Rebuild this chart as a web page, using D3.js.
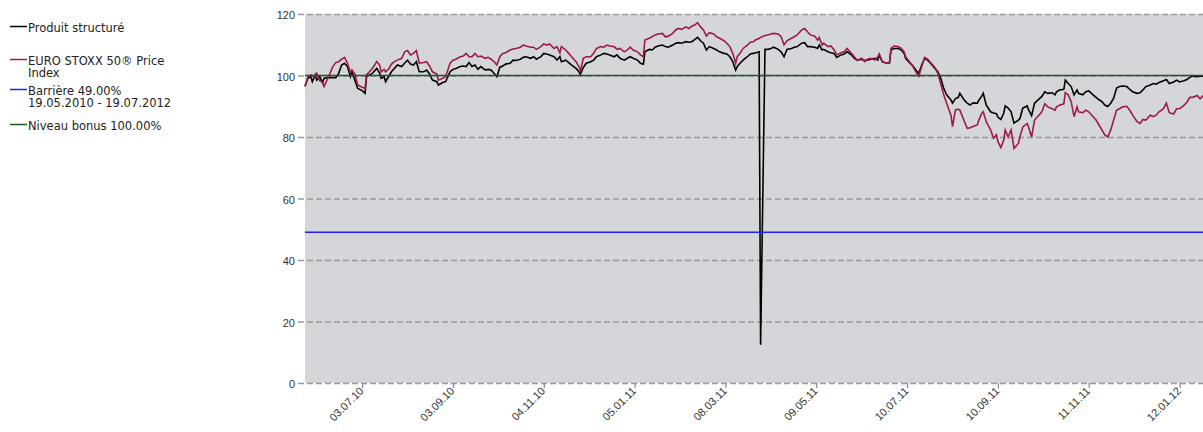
<!DOCTYPE html>
<html lang="fr">
<head>
<meta charset="UTF-8">
<title>Produit structuré / EURO STOXX 50</title>
<script src="https://d3js.org/d3.v7.min.js"></script>
<style>
  body { margin: 0; background: #fff; }
  svg { display: block; font-family: "DejaVu Sans", Arial, sans-serif; }
  .axis text { font-size: 11px; fill: #333; }
  .grid line { stroke: #999; stroke-width: 1.3; stroke-dasharray: 6,3; }
  .legend text { font-size: 11.5px; fill: #222; }
</style>
</head>
<body>
<svg width="1203" height="432"></svg>
<script>
// jours depuis le 25.05.2010 (premier point de la série)
const jours = [0,2,4,5,7,8,10,12,13,16,19,21,23,25,27,29,31,32,34,36,39,41,42,44,46,49,51,52,54,55,57,59,61,63,66,68,70,72,74,76,78,81,83,85,87,90,91,94,96,99,101,103,106,108,110,112,114,116,118,120,123,125,127,129,131,133,135,137,140,142,144,147,149,151,154,156,158,161,163,165,167,170,172,174,175,178,180,182,185,187,188,190,192,195,197,199,202,204,206,208,211,213,215,218,220,222,224,227,229,231,232,235,237,239,241,244,246,248,251,253,255,257,260,262,264,266,268,270,272,274,276,279,281,283,286,288,290,292,294,295,297,299,302,304,306,308,310,311,314,316,318,320,323,325,327,329,332,334,336,339,341,343,345,348,350,351,353,354,357,359,361,363,366,368,370,373,375,377,380,382,384,386,389,391,392,394,397,399,400,402,405,407,409,410,413,415,417,419,421,423,425,427,430,432,434,436,438,441,442,444,446,447,450,452,454,456,459,460,462,463,465,468,470,472,473,475,477,478,480,482,484,487,488,490,493,494,496,498,501,503,505,507,510,512,513,515,518,519,521,523,525,527,528,531,533,535,538,540,542,544,546,548,550,552,554,556,558,561,563,565,568,570,572,574,577,579,581,583,586,588,590,593,595,597,600,602,604,606,609,611,613];

const produit = [96.6,99.1,99.6,98.0,100.2,98.5,99.6,97.7,99.1,99.3,99.3,99.3,100.7,103.4,104.0,102.9,99.6,101.2,98.5,95.8,95.1,94.2,99.6,100.2,100.7,102.3,100.7,99.1,99.6,98.0,99.6,101.2,102.3,103.4,102.9,104.0,105.0,103.7,103.4,104.5,101.2,101.2,101.8,100.5,98.5,98.0,96.9,97.7,98.0,101.2,102.0,102.3,102.9,103.1,102.9,104.2,102.9,103.4,102.0,102.9,101.8,102.0,101.8,100.7,99.6,102.7,103.1,103.7,104.0,105.0,104.9,105.3,105.9,106.1,105.6,106.1,105.3,106.1,107.2,107.0,106.7,106.1,105.0,106.1,104.5,105.0,104.2,103.4,102.3,101.2,100.4,102.6,104.0,104.5,105.0,106.1,106.7,107.2,107.0,106.7,106.1,106.7,105.6,105.0,105.6,106.1,105.6,105.0,104.0,103.7,107.7,108.5,108.3,109.2,109.6,109.9,109.4,109.2,109.9,110.5,110.7,110.5,111.0,110.8,111.0,111.7,112.4,111.3,110.5,108.3,109.4,108.8,108.3,107.7,107.2,107.0,106.1,104.5,101.8,102.9,104.0,105.0,106.1,107.0,107.2,107.4,107.7,12.4,108.5,108.5,108.8,109.2,108.5,107.7,106.1,108.5,108.8,109.2,109.4,110.5,110.7,109.4,109.4,109.2,108.8,109.9,108.3,108.5,107.7,107.4,107.2,105.9,106.7,107.0,107.7,106.7,105.6,105.0,105.3,104.9,105.0,105.3,105.6,105.0,106.7,104.5,104.0,104.2,108.3,108.8,108.8,108.3,107.2,105.6,104.0,103.1,101.8,100.7,103.4,105.6,105.0,104.0,102.3,101.2,99.1,95.8,93.7,92.0,91.0,92.5,92.9,94.2,92.0,91.0,90.4,91.1,91.0,92.0,93.3,94.2,90.4,88.2,87.8,87.6,86.5,85.7,87.8,90.1,89.4,88.2,84.5,85.5,86.0,89.4,90.1,88.8,86.9,91.0,92.3,93.2,94.7,94.2,94.4,93.7,94.7,95.3,95.5,98.5,97.4,96.4,93.7,95.3,94.2,93.7,94.7,95.0,93.7,92.9,92.1,91.5,90.4,89.9,91.0,92.6,95.9,96.4,96.6,96.4,95.5,94.7,94.2,94.4,95.3,96.4,96.9,97.4,97.2,97.7,98.3,98.7,97.4,97.9,98.5,97.9,98.3,98.7,99.4,99.8,99.6,99.8,99.8];

const eurostoxx = [96.4,99.6,100.2,100.0,99.6,100.7,98.3,97.7,96.4,99.5,102.9,104.2,104.5,105.3,105.9,104.0,100.9,101.8,100.5,96.9,96.2,95.8,100.2,101.2,102.3,104.5,103.4,101.2,102.0,101.2,102.0,103.7,104.5,105.0,105.6,107.7,108.1,106.7,107.2,108.1,104.0,104.2,104.5,103.1,101.2,100.5,98.5,99.1,99.6,104.0,105.0,105.3,106.1,106.3,107.2,106.1,106.1,107.2,106.1,106.3,105.6,105.9,105.3,104.5,103.4,106.1,107.2,107.4,108.3,108.6,108.8,109.2,109.9,109.6,109.2,109.2,108.5,109.4,110.3,109.9,110.3,108.8,109.4,107.4,109.4,108.3,107.2,106.1,104.5,102.9,101.5,105.6,106.1,106.1,107.2,108.8,109.4,109.2,109.9,109.6,109.4,108.5,108.8,107.7,108.3,109.2,108.3,107.7,106.7,106.1,111.5,112.1,112.6,113.2,113.5,113.7,112.6,112.8,113.7,114.8,115.3,115.0,115.8,115.3,116.0,116.4,117.2,115.8,114.8,112.8,113.9,113.5,112.6,112.1,111.3,110.5,109.4,107.2,104.0,106.1,107.2,108.8,109.9,110.8,111.0,111.7,112.0,112.4,113.0,113.2,113.5,113.7,113.5,112.6,110.0,111.3,112.1,112.6,113.2,114.8,115.3,114.2,113.2,112.8,111.5,112.4,109.9,110.5,109.4,109.6,108.5,106.7,107.4,107.7,108.8,107.2,106.1,104.9,105.6,104.5,105.3,105.6,105.0,106.1,107.0,104.5,104.0,104.0,108.8,109.6,109.4,108.8,107.7,106.1,104.2,102.9,101.2,99.8,102.9,105.9,105.3,104.2,102.6,100.7,97.2,93.7,91.0,87.0,83.4,88.8,89.0,88.8,85.2,82.8,83.0,83.4,84.0,85.5,87.7,88.2,85.0,82.3,79.6,80.7,78.5,76.6,79.0,82.3,80.0,82.3,76.3,77.9,80.0,83.3,84.4,83.1,80.0,85.5,87.1,88.2,90.8,89.8,89.2,88.7,89.8,90.3,90.8,94.4,93.7,91.5,86.6,89.8,88.2,87.9,88.7,88.2,86.6,85.5,83.9,82.3,80.7,80.0,82.3,85.5,88.7,89.2,89.8,90.0,88.7,87.1,85.0,84.4,85.7,85.5,87.1,86.6,87.1,88.2,89.2,91.0,87.9,87.5,89.2,89.2,90.3,91.3,92.9,92.9,93.5,92.4,93.5];

const barriere = 49;
const bonus = 100;

const yTicks = [0, 20, 40, 60, 80, 100, 120];
const xTicks = ["03.07.10", "03.09.10", "04.11.10", "05.01.11", "08.03.11", "09.05.11", "10.07.11", "10.09.11", "11.11.11", "12.01.12"];

const legendLabels = [
    ["Produit structuré"],
    ["EURO STOXX 50® Price", "Index"],
    ["Barrière 49.00%", "19.05.2010 - 19.07.2012"],
    ["Niveau bonus 100.00%"]
];
const legendColors = ["#000000", "#9e1a4a", "#1f1fff", "#1a5a1a"];

const svg = d3.select("svg");
const plotLeft = 305, plotRight = 1203, plotTop = 14, plotBottom = 383;

const debut = new Date(2010, 4, 25);
const parseTick = d3.timeParse("%d.%m.%y");
const dates = jours.map(j => d3.timeDay.offset(debut, j));

const x = d3.scaleTime()
    .domain([debut, d3.timeDay.offset(debut, 613)])
    .range([plotLeft, plotRight]);
const y = d3.scaleLinear().domain([0, 120]).range([plotBottom, plotTop]);

// fond gris de la zone du graphique
svg.append("rect")
    .attr("x", plotLeft).attr("y", plotTop)
    .attr("width", plotRight - plotLeft).attr("height", plotBottom - plotTop)
    .attr("fill", "#d5d6d9");

// axe y + grille pointillée
const yAxis = svg.append("g")
    .attr("class", "axis grid")
    .attr("transform", `translate(${plotLeft - 7},0)`)
    .call(d3.axisLeft(y).tickValues(yTicks).tickSize(-(plotRight - plotLeft + 7)).tickPadding(3));
yAxis.select(".domain").remove();
yAxis.selectAll("text").attr("dy", "0.42em").attr("x", -3);

// axe x
const xAxis = svg.append("g")
    .attr("class", "axis")
    .attr("transform", `translate(0,${plotBottom})`)
    .call(d3.axisBottom(x)
        .tickValues(xTicks.map(parseTick))
        .tickSize(5)
        .tickFormat(d3.timeFormat("%d.%m.%y")));
xAxis.select(".domain").remove();
xAxis.selectAll("line").attr("stroke", "#888").attr("stroke-width", 1.2);
xAxis.selectAll("text")
    .attr("text-anchor", "end")
    .attr("dy", 0)
    .attr("transform", "translate(-4,3) rotate(-45)");

const line = d3.line()
    .x((d, i) => x(dates[i]))
    .y(d => y(d));

svg.append("path")
    .datum(produit)
    .attr("d", line)
    .attr("fill", "none")
    .attr("stroke", legendColors[0])
    .attr("stroke-width", 1.6);

svg.append("path")
    .datum(eurostoxx)
    .attr("d", line)
    .attr("fill", "none")
    .attr("stroke", legendColors[1])
    .attr("stroke-width", 1.6);

[barriere, bonus].forEach((v, i) => {
    svg.append("line")
        .attr("x1", plotLeft).attr("x2", plotRight)
        .attr("y1", y(v)).attr("y2", y(v))
        .attr("stroke", legendColors[2 + i])
        .attr("stroke-width", 1.5);
});

// légende
const legend = svg.append("g").attr("class", "legend");
const legendY = [32, 65, 95, 130];
legendLabels.forEach((lines, i) => {
    const g = legend.append("g").attr("transform", `translate(0,${legendY[i]})`);
    g.append("line")
        .attr("x1", 10).attr("x2", 27)
        .attr("y1", -5.5).attr("y2", -5.5)
        .attr("stroke", legendColors[i])
        .attr("stroke-width", 1.5);
    lines.forEach((t, k) => {
        g.append("text").attr("x", 28).attr("y", k * 12).text(t);
    });
});
</script>
</body>
</html>
